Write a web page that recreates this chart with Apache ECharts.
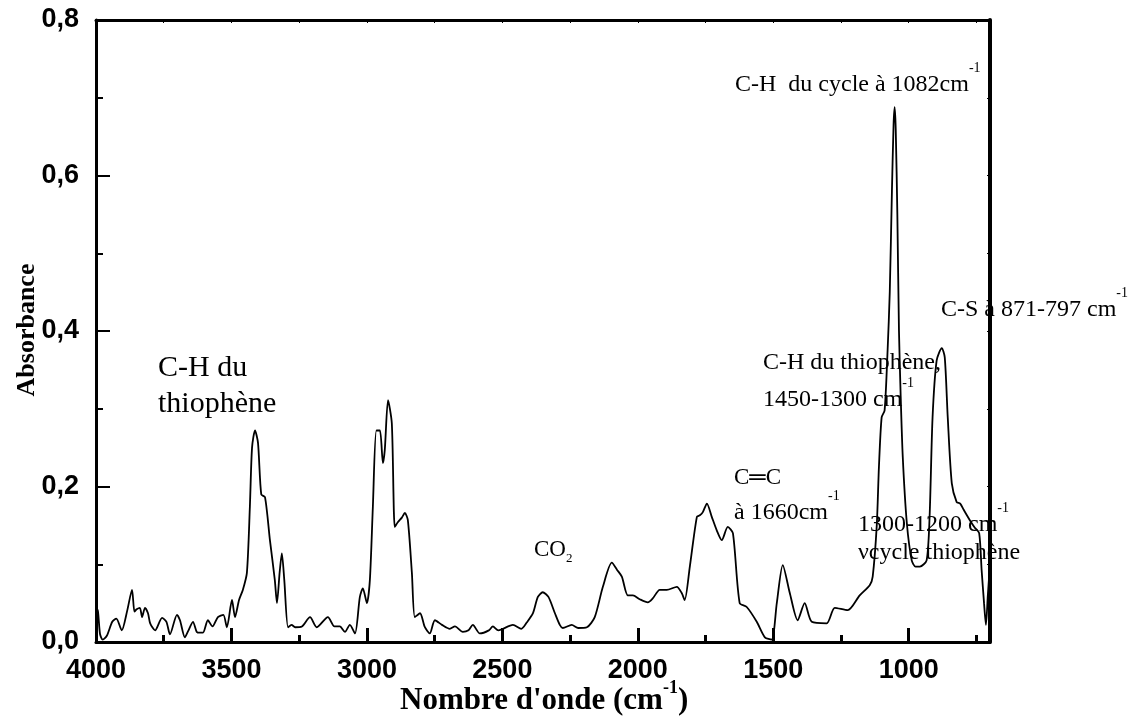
<!DOCTYPE html>
<html>
<head>
<meta charset="utf-8">
<script src="https://cdn.jsdelivr.net/npm/echarts@6/dist/echarts.min.js"></script>
<style>
  html, body { margin: 0; padding: 0; background: #fff; }
  #chart { width: 1136px; height: 720px; }
</style>
</head>
<body>
<div id="chart"></div>
<script>
// FTIR spectrum: wavenumber (cm-1) and absorbance
const wavenumbers = [
  4000, 3993, 3985, 3975, 3960, 3940, 3925, 3905, 3885, 3867, 3858, 3850, 3838, 3830, 3819, 3808, 3800,
  3782, 3756, 3740, 3727, 3701, 3690, 3672, 3660, 3642, 3628, 3616, 3605, 3587, 3570, 3550, 3530, 3517,
  3498, 3487, 3472, 3458, 3443, 3432, 3424, 3413, 3402, 3390, 3376, 3358, 3340, 3332, 3322, 3314, 3305,
  3291, 3278, 3265, 3240, 3210, 3185, 3144, 3120, 3100, 3081, 3063, 3044, 3026, 3015, 3000, 2989, 2978,
  2965, 2952, 2941, 2934, 2922, 2908, 2897, 2886, 2871, 2860, 2849, 2834, 2823, 2804, 2786, 2768, 2749,
  2723, 2694, 2675, 2646, 2625, 2609, 2583, 2550, 2535, 2515, 2461, 2430, 2410, 2387, 2369, 2351, 2330,
  2306, 2288, 2277, 2244, 2220, 2188, 2159, 2129, 2096, 2077, 2059, 2037, 2018, 1993, 1963, 1945, 1919,
  1893, 1856, 1838, 1827, 1808, 1782, 1771, 1760, 1745, 1727, 1709, 1690, 1668, 1649, 1624, 1598, 1561,
  1531, 1506, 1487, 1465, 1439, 1410, 1384, 1358, 1303, 1273, 1225, 1181, 1144, 1133, 1118, 1110, 1100,
  1089, 1078, 1070, 1062, 1056, 1052, 1048, 1042, 1036, 1030, 1022, 1007, 989, 975, 959, 934, 923, 912,
  897, 878, 867, 856, 841, 823, 810, 797, 775, 756, 740, 731, 722, 715, 708, 702, 700
];
const absorbance = [
  0.045, 0.040, 0.010, 0.003, 0.008, 0.026, 0.030, 0.015, 0.040, 0.067, 0.039, 0.042, 0.044, 0.032, 0.044, 0.037, 0.024,
  0.015, 0.031, 0.026, 0.010, 0.035, 0.028, 0.006, 0.014, 0.026, 0.013, 0.012, 0.012, 0.028, 0.020, 0.032, 0.035, 0.019,
  0.054, 0.032, 0.054, 0.067, 0.089, 0.174, 0.250, 0.272, 0.256, 0.190, 0.186, 0.131, 0.080, 0.050, 0.090, 0.114, 0.080,
  0.019, 0.022, 0.019, 0.020, 0.032, 0.019, 0.032, 0.020, 0.020, 0.013, 0.022, 0.011, 0.058, 0.069, 0.050, 0.080, 0.174,
  0.272, 0.272, 0.230, 0.247, 0.311, 0.281, 0.148, 0.154, 0.160, 0.166, 0.157, 0.089, 0.032, 0.037, 0.019, 0.011, 0.028,
  0.022, 0.017, 0.020, 0.013, 0.015, 0.022, 0.011, 0.015, 0.020, 0.015, 0.022, 0.017, 0.025, 0.037, 0.058, 0.064, 0.058,
  0.037, 0.022, 0.018, 0.022, 0.018, 0.019, 0.032, 0.071, 0.102, 0.093, 0.084, 0.060, 0.060, 0.055, 0.051, 0.056, 0.067,
  0.067, 0.071, 0.063, 0.054, 0.097, 0.161, 0.163, 0.167, 0.178, 0.161, 0.144, 0.131, 0.148, 0.140, 0.050, 0.045, 0.026,
  0.006, 0.003, 0.050, 0.099, 0.063, 0.028, 0.050, 0.026, 0.024, 0.044, 0.041, 0.060, 0.073, 0.084, 0.150, 0.225, 0.289,
  0.298, 0.375, 0.450, 0.580, 0.665, 0.688, 0.660, 0.550, 0.400, 0.320, 0.238, 0.153, 0.105, 0.097, 0.097, 0.105, 0.161, 0.289,
  0.362, 0.378, 0.366, 0.289, 0.204, 0.180, 0.178, 0.170, 0.157, 0.147, 0.140, 0.093, 0.050, 0.022, 0.060, 0.090, 0.100
];

// Axis ticks
const xMajorTicks = [4000, 3500, 3000, 2500, 2000, 1500, 1000];
const xMinorTicks = [3750, 3250, 2750, 2250, 1750, 1250, 750];
const xAllTicks = [4000, 3750, 3500, 3250, 3000, 2750, 2500, 2250, 2000, 1750, 1500, 1250, 1000, 750];
const xRange = [700, 4000];
const yRange = [0, 0.8];

// Text runs: each run is a sequence of pieces; 'sup' and 'sub' pieces are raised / lowered
const annotations = [
  { x: 158, base: 378, size: 30, parts: [{ text: 'C-H du' }] },
  { x: 158, base: 414, size: 30, parts: [{ text: 'thiophène' }] },
  { x: 534, base: 557, size: 23, parts: [{ text: 'CO' }, { text: '2', sub: true }] },
  { x: 734, base: 485, size: 23, parts: [{ text: 'C═C' }] },
  { x: 734, base: 520, size: 24, parts: [{ text: 'à 1660cm' }, { text: '-1', sup: true }] },
  { x: 735, base: 92, size: 24, parts: [{ text: 'C-H  du cycle à 1082cm' }, { text: '-1', sup: true }] },
  { x: 941, base: 317, size: 24, parts: [{ text: 'C-S à 871-797 cm' }, { text: '-1', sup: true }] },
  { x: 763, base: 370, size: 24, parts: [{ text: 'C-H du thiophène,' }] },
  { x: 763, base: 407, size: 24, parts: [{ text: '1450-1300 cm' }, { text: '-1', sup: true }] },
  { x: 858, base: 532, size: 24, parts: [{ text: '1300-1200 cm' }, { text: '-1', sup: true }] },
  { x: 858, base: 560, size: 24, parts: [{ text: 'νcycle thiophène' }] },
  // axis title
  { x: 400, base: 711, size: 31, bold: true, supRaise: 0.55,
    parts: [{ text: "Nombre d'onde (cm" }, { text: '-1', sup: true }, { text: ')' }] }
];

const SERIF = '"Liberation Serif", "Times New Roman", serif';
const SANS = '"Liberation Sans", Arial, sans-serif';

const measureCtx = document.createElement('canvas').getContext('2d');
function textWidth(str, font) {
  measureCtx.font = font;
  return measureCtx.measureText(str).width;
}

// Lay out one run of pieces left to right as graphic text elements
function runToGraphics(run) {
  const out = [];
  let cx = run.x;
  const raise = run.supRaise || 0.82;
  run.parts.forEach((p) => {
    const small = p.sup || p.sub;
    const size = small ? Math.round(run.size * 0.58) : run.size;
    const base = run.base + (p.sup ? -run.size * raise : p.sub ? run.size * 0.27 : 0);
    const font = (run.bold ? 'bold ' : '') + size + 'px ' + SERIF;
    out.push({
      type: 'text',
      x: cx,
      y: base - 0.32 * size,
      silent: true,
      style: { text: p.text, fill: '#000', font: font, align: 'left', verticalAlign: 'middle' }
    });
    cx += textWidth(p.text, font);
  });
  return out;
}

const graphics = [];
annotations.forEach((run) => graphics.push(...runToGraphics(run)));
graphics.push({
  type: 'text',
  x: 27,
  y: 330,
  rotation: Math.PI / 2,
  silent: true,
  style: {
    text: 'Absorbance',
    fill: '#000',
    font: 'bold 26px ' + SERIF,
    align: 'center',
    verticalAlign: 'middle'
  }
});

const chart = echarts.init(document.getElementById('chart'), null, { renderer: 'canvas' });

const blackLine = (w) => ({ show: true, onZero: false, lineStyle: { color: '#000', width: w } });
const tickLabelStyle = { color: '#000', fontFamily: SANS, fontWeight: 'bold', fontSize: 27 };

chart.setOption({
  animation: false,
  backgroundColor: '#fff',
  grid: { left: 96, right: 146, top: 20, bottom: 78, containLabel: false },
  xAxis: [
    {
      type: 'value', position: 'bottom', inverse: true, min: xRange[0], max: xRange[1],
      axisLine: blackLine(3),
      axisTick: { show: true, inside: true, length: 14, lineStyle: { color: '#000', width: 3 }, customValues: xMajorTicks },
      axisLabel: Object.assign({ margin: 15, customValues: xMajorTicks, formatter: (v) => String(v) }, tickLabelStyle),
      splitLine: { show: false }
    },
    {
      type: 'value', position: 'bottom', inverse: true, min: xRange[0], max: xRange[1],
      axisLine: { show: false },
      axisTick: { show: true, inside: true, length: 7, lineStyle: { color: '#000', width: 3 }, customValues: xMinorTicks },
      axisLabel: { show: false },
      splitLine: { show: false }
    },
    {
      type: 'value', position: 'top', inverse: true, min: xRange[0], max: xRange[1],
      axisLine: blackLine(3),
      axisTick: { show: true, inside: true, length: 3, lineStyle: { color: '#000', width: 1 }, customValues: xAllTicks },
      axisLabel: { show: false },
      splitLine: { show: false }
    }
  ],
  yAxis: [
    {
      type: 'value', position: 'left', min: yRange[0], max: yRange[1], interval: 0.2,
      axisLine: blackLine(3),
      axisTick: { show: true, inside: true, length: 14, lineStyle: { color: '#000', width: 2 } },
      axisLabel: Object.assign({ margin: 17, formatter: (v) => v.toFixed(1).replace('.', ',') }, tickLabelStyle),
      splitLine: { show: false }
    },
    {
      type: 'value', position: 'left', min: yRange[0], max: yRange[1], interval: 0.1,
      axisLine: { show: false },
      axisTick: { show: true, inside: true, length: 7, lineStyle: { color: '#000', width: 2 } },
      axisLabel: { show: false },
      splitLine: { show: false }
    },
    {
      type: 'value', position: 'right', min: yRange[0], max: yRange[1], interval: 0.1,
      axisLine: blackLine(4),
      axisTick: { show: true, inside: true, length: 3, lineStyle: { color: '#000', width: 1 } },
      axisLabel: { show: false },
      splitLine: { show: false }
    }
  ],
  series: [
    {
      type: 'line',
      xAxisIndex: 0,
      yAxisIndex: 0,
      data: wavenumbers.map((w, i) => [w, absorbance[i]]),
      showSymbol: false,
      smooth: 0.25,
      lineStyle: { color: '#000', width: 1.8 },
      z: 3
    }
  ],
  graphic: graphics
});
</script>
</body>
</html>
